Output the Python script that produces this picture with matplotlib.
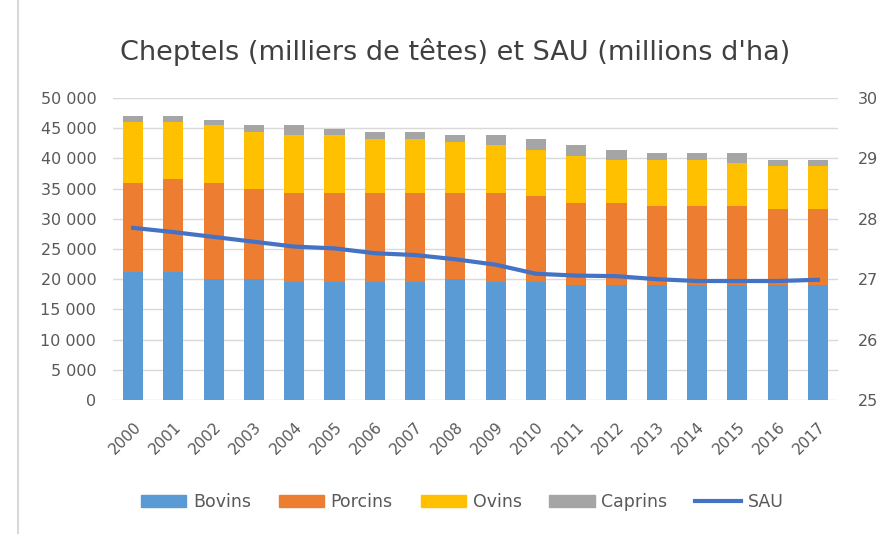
import matplotlib
matplotlib.use("Agg")
import matplotlib.pyplot as plt
from matplotlib.patches import Patch
from matplotlib.lines import Line2D
import numpy as np

years = [str(y) for y in range(2000, 2018)]
bovins = [21260, 21260, 20040, 20040, 19600, 19600, 19600, 19600, 20040, 19600,
          19600, 19050, 19050, 19050, 19050, 19050, 19050, 19050]
porcins = [14730, 15390, 15950, 14950, 14730, 14730, 14730, 14730, 14290, 14730,
           14230, 13620, 13620, 13120, 13120, 13120, 12620, 12620]
ovins = [9970, 9300, 9470, 9300, 9470, 9470, 8800, 8800, 8310, 7810,
         7640, 7810, 7140, 7640, 7640, 7140, 7140, 7140]
caprins = [1110, 1110, 940, 1160, 1660, 1000, 1160, 1160, 1160, 1660,
           1660, 1660, 1660, 1160, 1160, 1660, 1000, 1000]
sau = [27.85, 27.78, 27.70, 27.62, 27.54, 27.51, 27.43, 27.40, 27.33, 27.24,
       27.09, 27.06, 27.05, 27.00, 26.97, 26.97, 26.97, 26.99]

left_ticks = list(range(0, 50001, 5000))
right_ticks = [25, 26, 27, 28, 29, 30]

c_bov, c_por, c_ovi, c_cap, c_sau = "#5B9BD5", "#ED7D31", "#FFC000", "#A5A5A5", "#4472C4"
txt = "#595959"

fig = plt.figure(figsize=(8.84, 5.34), dpi=100)
ax = fig.add_axes([113/884, 1-400/534, (838-113)/884, (400-98)/534])
ax2 = ax.twinx()

x = np.arange(len(years))
w = 0.5
b1 = np.array(bovins)
b2 = b1 + np.array(porcins)
b3 = b2 + np.array(ovins)
ax.bar(x, bovins, w, color=c_bov, zorder=2)
ax.bar(x, porcins, w, bottom=b1, color=c_por, zorder=2)
ax.bar(x, ovins, w, bottom=b2, color=c_ovi, zorder=2)
ax.bar(x, caprins, w, bottom=b3, color=c_cap, zorder=2)

ax.set_xlim(-0.5, len(years)-0.5)
ax.set_ylim(0, 50000)
ax.set_yticks(left_ticks)
ax.set_yticklabels([f"{v:,}".replace(",", " ") for v in left_ticks])
ax.yaxis.grid(True, color="#D9D9D9", linewidth=1.0, zorder=0)
ax.set_axisbelow(True)
ax.set_xticks(x)
ax.set_xticklabels(years, rotation=45, ha="right", va="top", rotation_mode="anchor")

ax2.plot(x, sau, color=c_sau, linewidth=3.0, zorder=3)
ax2.set_ylim(25, 30)
ax2.set_yticks(right_ticks)

for a in (ax, ax2):
    for s in a.spines.values():
        s.set_visible(False)
ax.tick_params(axis="y", length=0, pad=12, labelsize=11.5, labelcolor=txt)
ax.tick_params(axis="x", length=0, pad=14, labelsize=11, labelcolor=txt)
ax2.tick_params(axis="y", length=0, pad=14, labelsize=11.5, labelcolor=txt)

fig.text(455/884, 1-52/534, "Cheptels (milliers de têtes) et SAU (millions d'ha)",
         ha="center", va="center", fontsize=19.5, color="#404040")

handles = [Patch(color=c_bov), Patch(color=c_por), Patch(color=c_ovi), Patch(color=c_cap),
           Line2D([0], [0], color=c_sau, linewidth=3.0)]
labels = ["Bovins", "Porcins", "Ovins", "Caprins", "SAU"]
leg = fig.legend(handles, labels, loc="center", bbox_to_anchor=(462/884, 1-502/534),
                 ncol=5, frameon=False, fontsize=12.5, labelcolor=txt,
                 handlelength=2.6, handleheight=0.75, handletextpad=0.4, columnspacing=1.6)

fig.add_artist(Line2D([18/884, 18/884], [0, 1], color="#D9D9D9", linewidth=1.5))

fig.savefig("out.png", dpi=100)
